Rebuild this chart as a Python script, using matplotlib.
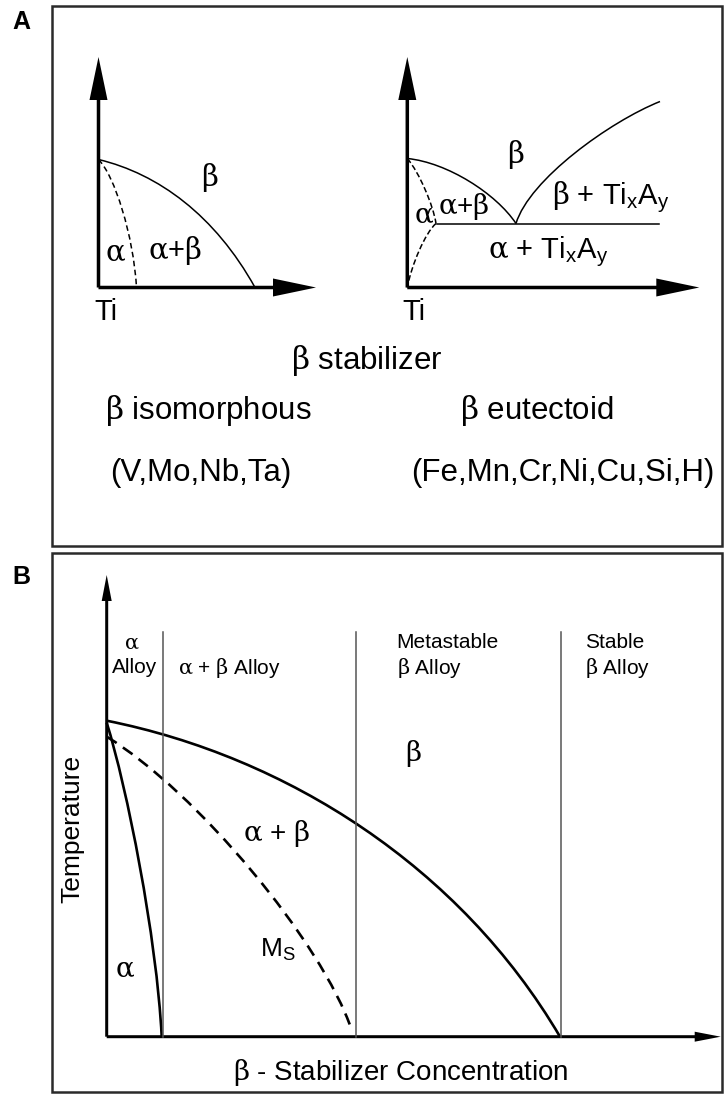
import matplotlib.pyplot as plt
from matplotlib.path import Path
from matplotlib.patches import PathPatch, Rectangle

plt.rcParams['font.family'] = ['Liberation Sans', 'DejaVu Sans']
plt.rcParams['mathtext.fontset'] = 'custom'
plt.rcParams['mathtext.rm'] = 'Liberation Sans'
plt.rcParams['mathtext.it'] = 'DejaVu Serif'   # upright serif greek
plt.rcParams['mathtext.bf'] = 'Liberation Sans:bold'
plt.rcParams['lines.scale_dashes'] = False

W, H = 724, 1095

# phase boundaries as cubic Bezier control points (composition, temperature)
# A left: beta isomorphous
iso_beta_transus = [(0, 128), (60, 113.6), (116.5, 72), (156.5, 0)]
iso_alpha_transus = [(0, 128), (16, 112), (35, 52), (38, 0)]
# A right: beta eutectoid
eut_beta_transus = [(0, 129), (40, 125), (88.7, 94), (108.7, 64)]
eut_beta_solvus = [(108.7, 64), (122, 108), (202.7, 166), (252.7, 186)]
eut_alpha_upper = [(0, 129), (12, 115), (26, 82), (28.7, 64)]
eut_alpha_lower = [(28.7, 64), (18, 55), (4, 22), (0, 0)]
eut_isotherm_x = [29.4, 252]
eut_isotherm_T = 64
# B: alloy classes
b_beta_transus = [(0, 316), (180, 280), (353.3, 170), (453.3, 0)]
b_alpha_transus = [(0, 314), (20, 250), (50, 100), (55, 0)]
b_ms = [(0, 300), (90, 245), (215, 95), (245, 6.7)]
b_class_bounds = [56, 249.3, 454]
b_class_top = 405

fig = plt.figure(figsize=(W / 100, H / 100), dpi=100)
fig.patch.set_facecolor('white')


def fx(x):
    return x / W


def fy(y):
    return 1 - y / H


def diagram_axes(ox, oy, x0, x1, y0, y1):
    # ox, oy = origin in pixels from the top left, extents in pixels around it
    ax = fig.add_axes([fx(ox + x0), fy(oy - y0), (x1 - x0) / W, (y1 - y0) / H])
    ax.set_xlim(x0, x1)
    ax.set_ylim(y0, y1)
    ax.axis('off')
    return ax


def bezier(ax, pts, **kw):
    path = Path(pts, [Path.MOVETO, Path.CURVE4, Path.CURVE4, Path.CURVE4])
    ax.add_patch(PathPatch(path, facecolor='none', capstyle='butt', **kw))


def axis_arrows(ax, xlen, ylen, shaft, hw, hl):
    ax.arrow(0, 0, 0, ylen, width=shaft, head_width=hw, head_length=hl,
             length_includes_head=True, color='black', lw=0)
    ax.arrow(0, 0, xlen, 0, width=shaft, head_width=hw, head_length=hl,
             length_includes_head=True, color='black', lw=0)


# panel frames
for y0, y1 in [(6, 546), (553, 1092)]:
    fig.add_artist(Rectangle((fx(52), fy(y1)), (722 - 52) / W, (y1 - y0) / H,
                             transform=fig.transFigure, fill=False,
                             edgecolor='#2a2a2a', lw=1.8))
fig.text(fx(21), fy(22), 'A', fontsize=18, fontweight='bold', ha='center', va='center')
fig.text(fx(21), fy(577), 'B', fontsize=18, fontweight='bold', ha='center', va='center')

thin = dict(edgecolor='black', lw=1.1)
fs_a = 21

# ---- A left: isomorphous
ax1 = diagram_axes(98.5, 287.5, -40, 240, -45, 245)
axis_arrows(ax1, 217.5, 230.5, 3.5, 18, 43)
bezier(ax1, iso_beta_transus, **thin)
bezier(ax1, iso_alpha_transus, linestyle=(0, (4, 2.5)), **thin)
ax1.text(111.5, 110, r'$\beta$', fontsize=fs_a, ha='center', va='center')
ax1.text(17, 34, r'$\alpha$', fontsize=fs_a, ha='center', va='center')
ax1.text(77, 37, r'$\alpha$+$\beta$', fontsize=fs_a, ha='center', va='center')
ax1.text(7, -25, 'Ti', fontsize=fs_a, ha='center', va='center')

# ---- A right: eutectoid
ax2 = diagram_axes(407.3, 287.5, -40, 310, -45, 245)
axis_arrows(ax2, 292, 230.5, 3.5, 18, 43)
bezier(ax2, eut_beta_transus, **thin)
bezier(ax2, eut_beta_solvus, **thin)
bezier(ax2, eut_alpha_upper, linestyle=(0, (4, 2)), **thin)
bezier(ax2, eut_alpha_lower, linestyle=(0, (4, 2)), **thin)
ax2.plot(eut_isotherm_x, [eut_isotherm_T] * 2, color='black', lw=1.1)
ax2.text(108, 133, r'$\beta$', fontsize=fs_a, ha='center', va='center')
ax2.text(145, 90, r'$\beta$ + Ti$_\mathrm{x}$A$_\mathrm{y}$', fontsize=fs_a, ha='left', va='center')
ax2.text(81, 36, r'$\alpha$ + Ti$_\mathrm{x}$A$_\mathrm{y}$', fontsize=fs_a, ha='left', va='center')
ax2.text(17, 71, r'$\alpha$', fontsize=fs_a - 1, ha='center', va='center')
ax2.text(57, 81, r'$\alpha$+$\beta$', fontsize=fs_a - 1, ha='center', va='center')
ax2.text(7, -25, 'Ti', fontsize=fs_a, ha='center', va='center')

fs_txt = 22.5
fig.text(fx(367), fy(360), r'$\beta$ stabilizer', fontsize=fs_txt, ha='center', va='center')
fig.text(fx(208), fy(410), r'$\beta$ isomorphous', fontsize=fs_txt, ha='center', va='center')
fig.text(fx(537), fy(410), r'$\beta$ eutectoid', fontsize=fs_txt, ha='center', va='center')
fig.text(fx(201), fy(473), '(V,Mo,Nb,Ta)', fontsize=fs_txt, ha='center', va='center')
fig.text(fx(563), fy(473), '(Fe,Mn,Cr,Ni,Cu,Si,H)', fontsize=fs_txt, ha='center', va='center')

# ---- B: alloy classification
ax3 = diagram_axes(106.7, 1036.7, -50, 615, -55, 470)
axis_arrows(ax3, 614, 461.7, 3, 10, 26)
for xb in b_class_bounds:
    ax3.plot([xb, xb], [0, b_class_top], color='#555555', lw=1.1)
bold = dict(edgecolor='black', lw=1.9)
bezier(ax3, b_beta_transus, **bold)
bezier(ax3, b_alpha_transus, **bold)
bezier(ax3, b_ms, linestyle=(0, (8.5, 5.5)), **bold)

fs_top = 15
row1, row2 = 394, 369
ax3.text(25, row1, r'$\alpha$', fontsize=fs_top, ha='center', va='center')
ax3.text(28.3, row2, 'Alloy', fontsize=fs_top, ha='center', va='center')
ax3.text(71.6, row2, r'$\alpha$ + $\beta$ Alloy', fontsize=fs_top, ha='left', va='center')
ax3.text(290, row1, 'Metastable', fontsize=fs_top, ha='left', va='center')
ax3.text(290, row2, r'$\beta$ Alloy', fontsize=fs_top, ha='left', va='center')
ax3.text(478.3, row1, 'Stable', fontsize=fs_top, ha='left', va='center')
ax3.text(478.3, row2, r'$\beta$ Alloy', fontsize=fs_top, ha='left', va='center')

fs_in = 20
ax3.text(306.6, 283.4, r'$\beta$', fontsize=fs_in, ha='center', va='center')
ax3.text(170, 203.4, r'$\alpha$ + $\beta$', fontsize=fs_in, ha='center', va='center')
ax3.text(171, 86.7, r'M$_\mathrm{S}$', fontsize=19, ha='center', va='center')
ax3.text(18.3, 66.7, r'$\alpha$', fontsize=fs_in, ha='center', va='center')

fig.text(fx(72), fy(829), 'Temperature', fontsize=19, rotation=90, ha='center', va='center')
fig.text(fx(401), fy(1072), r'$\beta$ - Stabilizer Concentration', fontsize=20,
         ha='center', va='center')

fig.savefig('out.png', dpi=100, facecolor='white')
